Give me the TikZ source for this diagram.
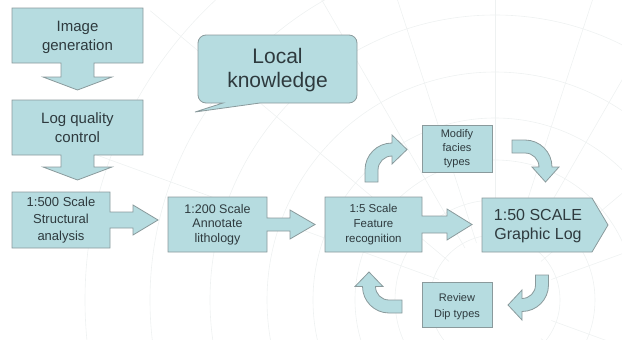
\documentclass[tikz,border=0pt]{standalone}
\usepackage{fontspec}
\setmainfont{Liberation Sans}
\usetikzlibrary{calc}
\definecolor{boxfill}{HTML}{B6DCE0}
\definecolor{boxline}{HTML}{8A9A9C}
\definecolor{txtcol}{HTML}{2E3A3E}
\definecolor{bgline}{HTML}{EEF1F1}
\tikzset{
  blk/.style={fill=boxfill, draw=boxline, line width=0.8pt, line join=miter},
  txt/.style={text=txtcol, align=center, inner sep=0pt},
  bgl/.style={draw=bgline, line width=0.6pt},
}
\begin{document}
\begin{tikzpicture}[x=1pt,y=-1pt]
\useasboundingbox (0,0) rectangle (622,340);
% faint background watermark
\begin{scope}
\clip (0,0) rectangle (622,340);
\foreach \r in {65,100,140,182,228,285,345,410}
  \draw[bgl] (495,300) circle[radius=\r];
\foreach \a in {-70,-50,-30,-18,0,18,30,50,70,110,130,150}
  \draw[bgl] ($(495,300)+(\a-90:60)$) -- ($(495,300)+(\a-90:450)$);
\end{scope}
% Image generation (down arrow callout)
\path[blk] (12,8) -- (143,8) -- (143,63) -- (94,63) -- (94,77) -- (112,77) -- (77.5,90)
  -- (43,77) -- (61,77) -- (61,63) -- (12,63) -- cycle;
\node[txt, font=\fontsize{15}{19}\selectfont] (imggen) at (77.5,37) {Image\\generation};
% Log quality control
\path[blk] (12,100) -- (143,100) -- (143,155) -- (94,155) -- (94,167) -- (112,167) -- (77.5,180)
  -- (43,167) -- (61,167) -- (61,155) -- (12,155) -- cycle;
\node[txt, font=\fontsize{15}{19}\selectfont] (logqc) at (77.5,128) {Log quality\\control};
% 1:500
\path[blk] (12,192) -- (110,192) -- (110,212) -- (133,212) -- (133,205) -- (158,220)
  -- (133,235) -- (133,228) -- (110,228) -- (110,248) -- (12,248) -- cycle;
\node[txt, font=\fontsize{13}{17}\selectfont] (s500) at (61,220) {1:500 Scale\\Structural\\analysis};
% 1:200
\path[blk] (168,197) -- (267,197) -- (267,218) -- (290,218) -- (290,210) -- (315,224.5)
  -- (290,239) -- (290,231) -- (267,231) -- (267,252) -- (168,252) -- cycle;
\node[txt, font=\fontsize{12.5}{14.5}\selectfont] (s200) at (217.5,224.5) {1:200 Scale\\Annotate\\lithology};
% 1:5
\path[blk] (325,197) -- (422,197) -- (422,216) -- (447,216) -- (447,209) -- (472,224.5)
  -- (447,240) -- (447,233) -- (422,233) -- (422,252) -- (325,252) -- cycle;
\node[txt, font=\fontsize{11.5}{15}\selectfont] (s5) at (373.5,225) {1:5 Scale\\Feature\\recognition};
% 1:50 pentagon
\path[blk] (482,198) -- (592,198) -- (608,225) -- (592,252) -- (482,252) -- cycle;
\node[txt, font=\fontsize{16}{19}\selectfont] (s50) at (538,226) {1:50 SCALE\\Graphic Log};
% Modify facies types
\path[blk] (422,125) rectangle (492,172);
\node[txt, font=\fontsize{11}{14}\selectfont] (modify) at (457,149) {Modify\\facies\\types};
% Review Dip types
\path[blk] (422,282) rectangle (492,327);
\node[txt, font=\fontsize{11}{16}\selectfont] (review) at (457,307) {Review\\Dip types};
% curved arrow 1 (up then right)
\path[blk] (365,182) -- (365,170) .. controls (365,155.1) and (377.1,143) .. (392,143)
  -- (392,135) -- (407,149.5) -- (392,164) -- (392,156)
  .. controls (384.3,156) and (378,162.3) .. (378,170) -- (378,182) -- cycle;
% curved arrow 2 (right then down)
\path[blk] (512,140) -- (525,140) .. controls (539.9,140) and (552,152.1) .. (552,167)
  -- (559,167) -- (545.5,182) -- (532,167) -- (539,167)
  .. controls (539,159.3) and (532.7,153) .. (525,153) -- (512,153) -- cycle;
% curved arrow 3 (down then left)
\path[blk] (535.5,275) -- (548.5,275) -- (548.5,285) .. controls (548.5,299.6) and (536.6,311.5) .. (522,311.5)
  -- (522,320) -- (508,305) -- (522,290) -- (522,298.5)
  .. controls (529.5,298.5) and (535.5,292.5) .. (535.5,285) -- cycle;
% curved arrow 4 (left then up)
\path[blk] (402,300) -- (402,313) -- (389,313) .. controls (374.4,313) and (362.5,301.1) .. (362.5,286.5)
  -- (355,286.5) -- (369,272) -- (383,286.5) -- (375.5,286.5)
  .. controls (375.5,294) and (381.5,300) .. (389,300) -- cycle;
% speech bubble
\path[blk] (223,103) -- (206,103) .. controls (201.6,103) and (198,99.4) .. (198,95) -- (198,43)
  .. controls (198,38.6) and (201.6,35) .. (206,35) -- (349,35)
  .. controls (353.4,35) and (357,38.6) .. (357,43) -- (357,95)
  .. controls (357,99.4) and (353.4,103) .. (349,103) -- (260,103) -- (195,112) -- cycle;
\node[txt, font=\fontsize{21}{24}\selectfont] (local) at (277.5,70) {Local\\knowledge};
\end{tikzpicture}
\end{document}
